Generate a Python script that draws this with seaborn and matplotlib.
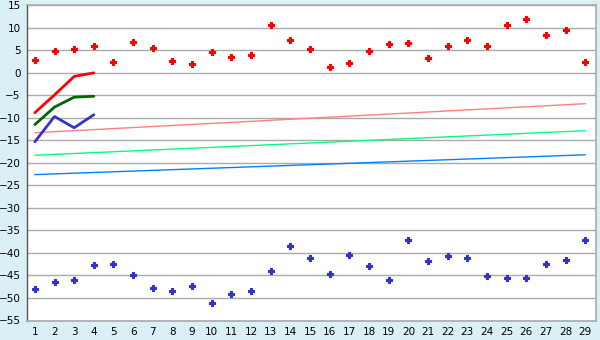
import matplotlib
matplotlib.use("Agg")
import matplotlib.pyplot as plt
import seaborn as sns
import numpy as np
import pandas as pd

x_labels = list(range(1, 30))
red_points = [2.9, 4.9, 5.4, 6.0, 2.5, 6.9, 5.6, 2.7, 2.0, 4.7, 3.6, 4.0, 10.7, 7.2, 5.2,
              1.4, 2.1, 4.9, 6.5, 6.7, 3.4, 6.0, 7.4, 6.0, 10.7, 12.0, 8.3, 9.6, 2.3]
blue_points = [-48.0, -46.4, -46.0, -42.6, -42.4, -44.9, -47.7, -48.4, -47.3, -51.1, -49.1,
               -48.4, -44.0, -38.4, -41.1, -44.6, -40.4, -42.9, -46.0, -37.1, -41.7, -40.6,
               -41.1, -45.1, -45.5, -45.5, -42.4, -41.5, -37.1]
line_x = [1, 2, 3, 4]
red_line = [-8.85, -4.9, -0.8, 0.0]
green_line = [-11.5, -7.6, -5.4, -5.2]
blue_line = [-15.3, -9.7, -12.2, -9.3]
trend_x = [1, 29]
trend_pink = [-13.3, -6.85]
trend_green = [-18.3, -12.85]
trend_blue = [-22.6, -18.2]

sns.set_theme(style="white")
plt.rcParams['font.family'] = ['DejaVu Sans']

fig = plt.figure(figsize=(6, 3.4), dpi=100)
fig.patch.set_facecolor("#DAEFF6")
ax = fig.add_axes([27/600, 1 - 320.5/340, (595.5 - 27)/600, (320.5 - 5.3)/340])
ax.set_facecolor("white")

sns.lineplot(x=trend_x, y=trend_pink, color="#FF8080", lw=1.0, ax=ax)
sns.lineplot(x=trend_x, y=trend_green, color="#00FF80", lw=1.0, ax=ax)
sns.lineplot(x=trend_x, y=trend_blue, color="#0080FF", lw=1.0, ax=ax)

sns.lineplot(x=line_x, y=red_line, color="#FF0000", lw=2.0, ax=ax)
sns.lineplot(x=line_x, y=green_line, color="#006600", lw=2.0, ax=ax)
sns.lineplot(x=line_x, y=blue_line, color="#3333CC", lw=2.0, ax=ax)

sns.scatterplot(x=x_labels, y=red_points, color="#FF0000", marker="P", s=24,
                edgecolor="#FF0000", linewidth=0.8, ax=ax, zorder=5)
sns.scatterplot(x=x_labels, y=blue_points, color="#3333CC", marker="P", s=24,
                edgecolor="#3333CC", linewidth=0.8, ax=ax, zorder=5)

ax.set_xlim(0.6, 29.52)
ax.set_ylim(-55, 15)
ax.set_yticks(np.arange(-55, 16, 5))
ax.set_xticks(x_labels)
ax.set_xticklabels([str(v) for v in x_labels])
ax.yaxis.grid(True, color="#AAAAAA", lw=1.0)
ax.set_axisbelow(True)
ax.tick_params(axis="both", labelsize=7.5, colors="#000000", length=3, width=1,
               direction="out", pad=2)
ax.tick_params(axis="y", length=2.5)
for side in ["top", "right", "bottom"]:
    ax.spines[side].set_color("#AAAAAA")
    ax.spines[side].set_linewidth(1.2)
ax.spines["left"].set_color("#555555")
ax.spines["left"].set_linewidth(1.0)
ax.set_yticklabels([str(v).replace("-", "\u2212") for v in range(-55, 16, 5)])
ax.set_xlabel("")
ax.set_ylabel("")

fig.savefig("out.png", dpi=100, facecolor=fig.get_facecolor())
